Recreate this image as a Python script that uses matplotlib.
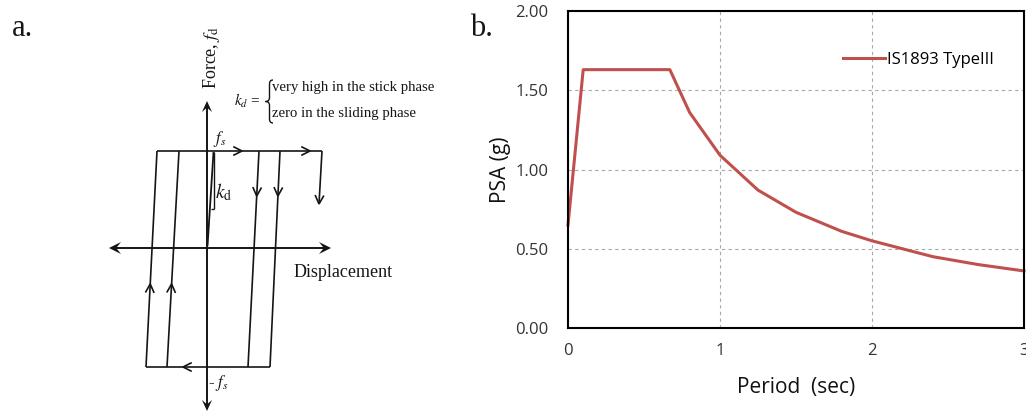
import matplotlib
matplotlib.use('Agg')
import matplotlib.pyplot as plt
import numpy as np
from matplotlib.path import Path
from matplotlib.patches import PathPatch, Polygon

# ---------------- data (panel b) ----------------
period = [0.00, 0.10, 0.67, 0.80, 1.00, 1.25, 1.50, 1.80, 2.00, 2.20, 2.40, 2.70, 3.00]
psa = [0.65, 1.63, 1.63, 1.36, 1.09, 0.87, 0.73, 0.61, 0.55, 0.50, 0.45, 0.40, 0.36]
series_label = 'IS1893 TypeIII'
x_ticks = [0, 1, 2, 3]
y_ticks = [0.0, 0.5, 1.0, 1.5, 2.0]

# ---------------- schematic geometry (panel a, pixel units) ----------------
loop_bottom_x = [146, 167, 248, 270]
loop_top_x = [157, 179, 259, 280]
loop_top_y = 151
loop_bottom_y = 367
top_line_end = 322
drop_end = (319, 204)

W, H = 1026, 411
fig = plt.figure(figsize=(W / 100, H / 100), dpi=100)
plt.rcParams['mathtext.fontset'] = 'stix'

serif = 'Liberation Serif'
ink = '#151515'
lw_a = 1.2

axa = fig.add_axes([0, 0, 460 / W, 1])
axa.set_xlim(0, 460)
axa.set_ylim(H, 0)
axa.axis('off')


def line(p, q, lw=lw_a):
    axa.plot([p[0], q[0]], [p[1], q[1]], color=ink, lw=lw, solid_capstyle='butt')


def chevron(tip, d, L=8, Wd=4, lw=1.2):
    d = np.array(d, float)
    d /= np.linalg.norm(d)
    n = np.array([-d[1], d[0]])
    t = np.array(tip, float)
    b = t - d * L
    p1 = b + n * Wd
    p2 = b - n * Wd
    axa.plot([p1[0], t[0], p2[0]], [p1[1], t[1], p2[1]], color=ink, lw=lw,
             solid_joinstyle='miter')


def stealth(tip, d, L=11, Wd=5):
    d = np.array(d, float)
    d /= np.linalg.norm(d)
    n = np.array([-d[1], d[0]])
    t = np.array(tip, float)
    b = t - d * L
    pts = [t, b + n * Wd, t - d * L * 0.6, b - n * Wd]
    axa.add_patch(Polygon(pts, closed=True, color=ink, lw=0))


# axes of the schematic
line((207, 408), (207, 106), lw=1.4)
stealth((207, 101), (0, -1))
stealth((207, 411), (0, 1))
line((114, 248), (326, 248), lw=1.4)
stealth((109, 248), (-1, 0), L=12, Wd=6)
stealth((331, 248), (1, 0), L=12, Wd=6)

# hysteresis loop
line((loop_top_x[0], loop_top_y), (top_line_end, loop_top_y))
line((loop_bottom_x[0], loop_bottom_y), (loop_bottom_x[-1], loop_bottom_y))
for xb, xt in zip(loop_bottom_x, loop_top_x):
    line((xb, loop_bottom_y), (xt, loop_top_y))
line((top_line_end, loop_top_y), drop_end)
chevron(drop_end, (-3, 53))
chevron((242, loop_top_y), (1, 0))
chevron((310, loop_top_y), (1, 0))
chevron((183, loop_bottom_y), (-1, 0))
for xb, xt in zip(loop_bottom_x[:2], loop_top_x[:2]):
    yy = 284
    xx = xb + (xt - xb) * (loop_bottom_y - yy) / (loop_bottom_y - loop_top_y)
    chevron((xx, yy), (xt - xb, loop_top_y - loop_bottom_y))
for xb, xt in zip(loop_bottom_x[2:], loop_top_x[2:]):
    yy = 196
    xx = xb + (xt - xb) * (loop_bottom_y - yy) / (loop_bottom_y - loop_top_y)
    chevron((xx, yy), (xb - xt, loop_bottom_y - loop_top_y))

# kd slope indicator
line((207.5, 246), (213.5, 152), lw=1.3)
line((213.5, 152), (213.5, 209), lw=1.0)
line((211, 209), (213.5, 209), lw=1.0)

# brace
xm, tipx, y0, y1 = 269.5, 265.5, 80, 123
ym = (y0 + y1) / 2
verts = [(273, y0), (xm, y0), (xm, y0 + 4), (xm, ym - 4), (xm, ym), (tipx, ym),
         (xm, ym), (xm, ym + 4), (xm, y1 - 4), (xm, y1), (273, y1)]
codes = [Path.MOVETO, Path.CURVE3, Path.CURVE3, Path.LINETO, Path.CURVE3, Path.CURVE3,
         Path.CURVE3, Path.CURVE3, Path.LINETO, Path.CURVE3, Path.CURVE3]
axa.add_patch(PathPatch(Path(verts, codes), fill=False, color=ink, lw=1.0))

# texts panel a
tkw = dict(family=serif, color=ink)
axa.text(12, 29, 'a.', fontsize=22, ha='left', va='center', **tkw)
axa.text(211, 57, r'Force, $f_{\mathrm{d}}$', fontsize=13, rotation=90,
         ha='center', va='center', **tkw)
axa.text(343, 272, 'Displacement', fontsize=13, ha='center', va='center', **tkw)
axa.text(220, 139, r'$f_s$', fontsize=12, ha='center', va='center', **tkw)
axa.text(218, 383, r'- $f_s$', fontsize=12, ha='center', va='center', **tkw)
axa.text(224, 192, r'$k_{\mathrm{d}}$', fontsize=14, ha='center', va='center', **tkw)
axa.text(247, 101, r'$k_d$ =', fontsize=11, ha='center', va='center', **tkw)
axa.text(272, 87, 'very high in the stick phase', fontsize=10.6, ha='left', va='center', **tkw)
axa.text(272, 113, 'zero in the sliding phase', fontsize=10.6, ha='left', va='center', **tkw)

fig.text(470 / W, 1 - 29 / H, 'b.', fontsize=22, ha='left', va='center', **tkw)

# ---------------- panel b ----------------
sans = 'Open Sans'
axb = fig.add_axes([568 / W, (H - 328) / H, 456 / W, 317 / H])
axb.plot(period, psa, color='#C0504D', lw=2.2, label=series_label,
         solid_joinstyle='round', clip_on=False)
axb.set_xlim(0, 3)
axb.set_ylim(0, 2)
axb.set_xticks(x_ticks)
axb.set_yticks(y_ticks)
axb.set_yticklabels([f'{v:.2f}' for v in y_ticks])
axb.grid(True, ls=(0, (3, 3)), color='#A8A8A8', lw=0.8)
axb.set_axisbelow(True)
for s in axb.spines.values():
    s.set_linewidth(1.5)
    s.set_color('black')
axb.tick_params(length=0, labelsize=12, colors='#333333')
axb.tick_params(axis='y', pad=14)
axb.tick_params(axis='x', pad=11)
for lab in axb.get_xticklabels() + axb.get_yticklabels():
    lab.set_family(sans)
axb.set_xlabel('Period  (sec)', fontsize=15, family=sans, color='#111111')
axb.set_ylabel('PSA (g)', fontsize=15, family=sans, color='#111111')
axb.xaxis.set_label_coords(0.5, -0.155)
axb.yaxis.set_label_coords(-0.124, 0.5)
leg = axb.legend(loc='center left', bbox_to_anchor=((843 - 568) / 456, (328 - 60) / 317),
                 frameon=False, handlelength=2.5, handletextpad=0.15, borderpad=0,
                 borderaxespad=0, prop={'family': sans, 'size': 12})

fig.savefig('out.png', dpi=100)
